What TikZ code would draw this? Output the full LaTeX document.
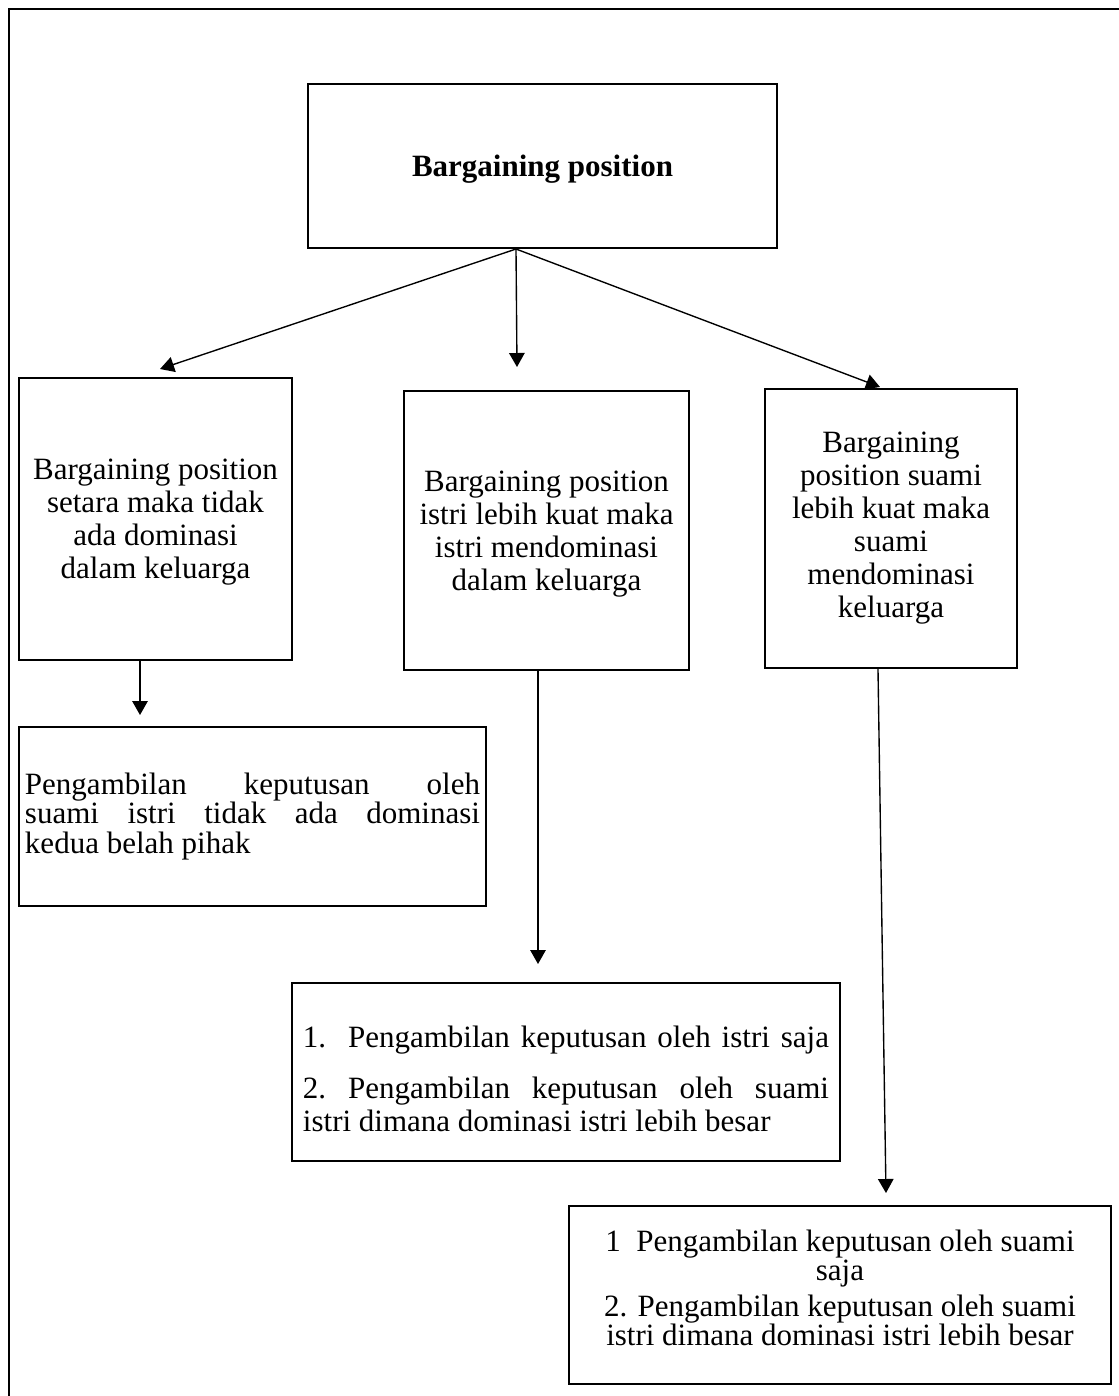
\documentclass[tikz,border=0pt]{standalone}
\usepackage{fontspec}
\setmainfont{Liberation Serif}
\usetikzlibrary{arrows.meta, calc}

% one line stretched to the full width
\newcommand{\fullline}[2]{\makebox[#1][s]{\frenchspacing\spaceskip=0pt\xspaceskip=0pt\relax #2}}

\begin{document}
\begin{tikzpicture}[x=0.4pt, y=-0.4pt,
    box/.style={draw, line width=0.8pt, inner sep=0pt, align=flush center,
      font=\fontsize{12.4}{13.2}\selectfont},
    arr/.style={-{Triangle[length=5.6pt, width=6.2pt]}, line width=0.55pt}]
    \useasboundingbox (0,0) rectangle (1119,1396);
    % Outer frame, cut off at the right and bottom
    \draw[line width=0.6pt] (1119,9) -- (9,9) -- (9,1396);

    % Top box
    \node[box, minimum width=187.6pt, minimum height=65.6pt] (bp) at (542.5,166) {\rule{0pt}{11pt}\textbf{Bargaining position}};

    % Three kinds of bargaining position
    \node[box, minimum width=109.2pt, minimum height=112.8pt] (setara) at (155.5,519)
      {\rule{0pt}{11pt}Bargaining position\\setara maka tidak\\ada dominasi\\dalam keluarga};
    \node[box, minimum width=114pt, minimum height=111.6pt] (istri) at (546.5,530.5)
      {\rule{0pt}{11pt}Bargaining position\\istri lebih kuat maka\\istri mendominasi\\dalam keluarga};
    \node[box, minimum width=100.8pt, minimum height=111.6pt] (suami) at (891,528.5)
      {Bargaining\\position suami\\lebih kuat maka\\suami\\mendominasi\\keluarga};

    % Who takes the decisions
    \node[box, minimum width=186.8pt, minimum height=71.6pt, align=justify, text width=182pt,
      font=\fontsize{12.4}{11.8}\selectfont] (hasilsetara) at (252.5,816.5)
      {\fullline{182pt}{Pengambilan keputusan oleh}\\
       \fullline{182pt}{suami istri tidak ada dominasi}\\
       kedua belah pihak};
    \node[box, minimum width=219.2pt, minimum height=71.2pt, align=justify, text width=210.4pt] (hasilistri) at (566,1072)
      {\rule{0pt}{14pt}\fullline{210.4pt}{1.\ \ Pengambilan keputusan oleh istri saja}\\[7.2pt]
       \fullline{210.4pt}{2. Pengambilan keputusan oleh suami}\\
       istri dimana dominasi istri lebih besar};
    \node[box, minimum width=216.8pt, minimum height=71.2pt, font=\fontsize{12.4}{11.8}\selectfont] (hasilsuami) at (840,1295)
      {1\enspace Pengambilan keputusan oleh suami\\saja\\[2.4pt]
       2. Pengambilan keputusan oleh suami\\istri dimana dominasi istri lebih besar\rule[-6pt]{0pt}{6pt}};

    % Arrows from the top box
    \draw[arr] ($(bp.south)+(-26.5,0)$) -- ($(setara.north)+(4.5,-8)$);
    \draw[arr] ($(bp.south)+(-26.5,0)$) -- ($(istri.north)+(-29.5,-23)$);
    \draw[arr] ($(bp.south)+(-26.5,0)$) -- ($(suami.north)+(-11,-1)$);

    % Arrows down to the decisions
    \draw[arr] ($(setara.south)+(-15.5,0)$) -- ($(hasilsetara.north)+(-112.5,-11)$);
    \draw[arr] ($(istri.south)+(-8.5,0)$) -- ($(hasilistri.north)+(-28,-18)$);
    \draw[arr] ($(suami.south)+(-13,0)$) -- ($(hasilsuami.north)+(46,-12)$);
\end{tikzpicture}
\end{document}
